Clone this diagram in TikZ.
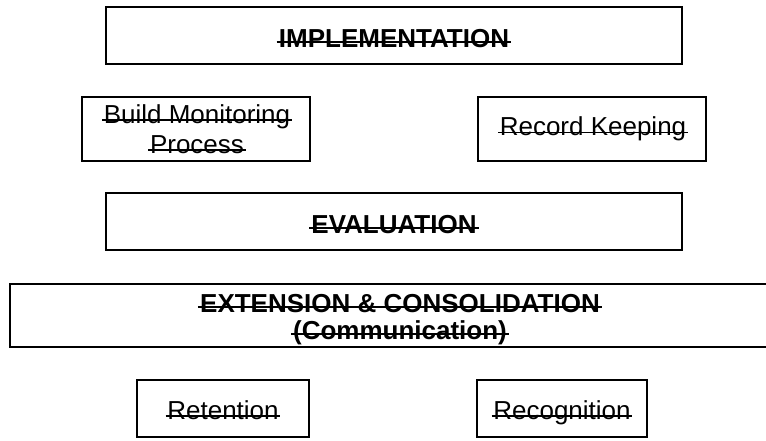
\documentclass[tikz,border=0pt]{standalone}
\usepackage{fontspec}
\setmainfont{Liberation Sans}
\tikzset{
  box/.style={draw=black, line width=1.8pt, inner sep=0pt, fill=white},
  lbl/.style={anchor=base, inner sep=0pt, font=\fontsize{26}{30}\selectfont},
  blbl/.style={lbl, font=\fontsize{26}{30}\selectfont\bfseries},
  strk/.style={line width=1.4pt},
  strkb/.style={line width=2pt},
}
\newcommand\strikeR[1]{\draw[strk] ([xshift=-1.5pt,yshift=3pt]#1.base west) -- ([xshift=1.5pt,yshift=3pt]#1.base east);}
\newcommand\strikeB[1]{\draw[strkb] ([xshift=-2pt,yshift=5pt]#1.base west) -- ([xshift=2pt,yshift=5pt]#1.base east);}
\begin{document}
\begin{tikzpicture}[x=1pt, y=-1pt]
\useasboundingbox (0,0) rectangle (766,440);
\clip (0,0) rectangle (766,440);
\fill[white] (0,0) rectangle (766,440);
% boxes
\node[box, minimum width=576pt, minimum height=57pt] (impl) at (394,35.5) {};
\node[box, minimum width=228pt, minimum height=64pt] (build) at (196,129) {};
\node[box, minimum width=228pt, minimum height=64pt] (record) at (592,129) {};
\node[box, minimum width=576pt, minimum height=57pt] (eval) at (394,221.5) {};
\node[box, minimum width=780pt, minimum height=63pt] (ext) at (400,315.5) {};
\node[box, minimum width=172pt, minimum height=57pt] (ret) at (223,408.5) {};
\node[box, minimum width=170pt, minimum height=57pt] (rec) at (562,408.5) {};
% texts
\node[blbl] (implT) at (394,47) {IMPLEMENTATION};
\node[lbl] (buildT1) at (197,123) {Build Monitoring};
\node[lbl] (buildT2) at (197,153) {Process};
\node[lbl] (recordT) at (593,135.5) {Record Keeping};
\node[blbl] (evalT) at (394,233) {EVALUATION};
\node[blbl] (extT1) at (400,312) {EXTENSION \& CONSOLIDATION};
\node[blbl] (extT2) at (400,339) {(Communication)};
\node[lbl] (retT) at (223,419) {Retention};
\node[lbl] (recT) at (562,419) {Recognition};
% strike-through lines
\strikeB{implT}
\strikeR{buildT1}
\strikeR{buildT2}
\strikeR{recordT}
\strikeB{evalT}
\strikeB{extT1}
\strikeB{extT2}
\strikeR{retT}
\strikeR{recT}
\end{tikzpicture}
\end{document}
